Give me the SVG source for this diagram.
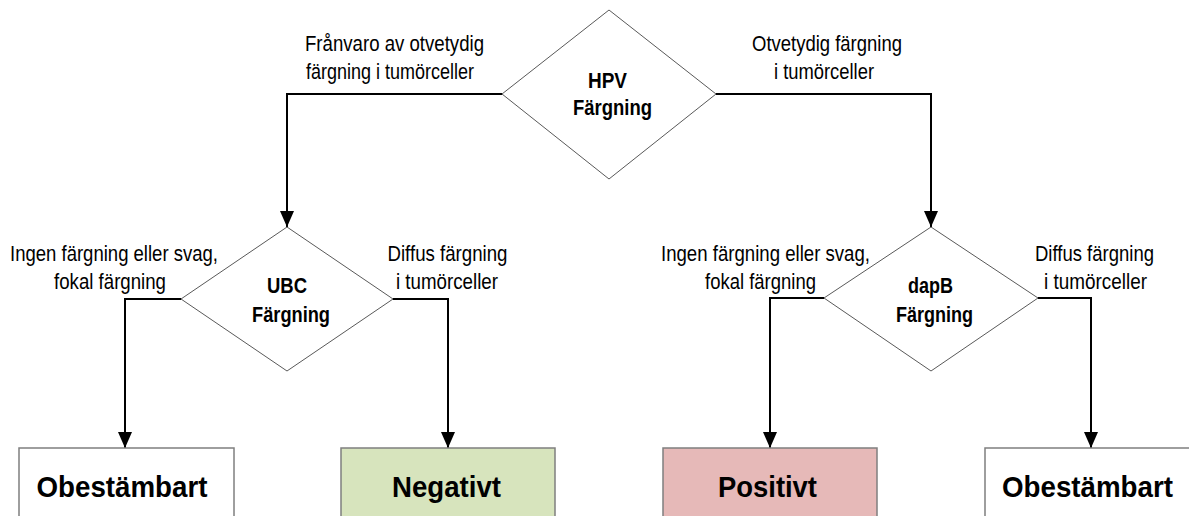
<svg xmlns="http://www.w3.org/2000/svg" width="1189" height="516" viewBox="0 0 1189 516">
<style>
  .lbl { font-family: "Liberation Sans Narrow", "Liberation Sans", Arial, sans-serif; font-size: 22px; fill: #000; text-anchor: middle; }
  .dlbl { font-family: "Liberation Sans Narrow", "Liberation Sans", Arial, sans-serif; font-size: 22px; font-weight: bold; fill: #000; text-anchor: middle; }
  .blbl { font-family: "Liberation Sans Narrow", "Liberation Sans", Arial, sans-serif; font-size: 30px; font-weight: bold; fill: #000; text-anchor: middle; }
  .dia { fill: #fff; stroke: #595959; stroke-width: 1; }
  .box { stroke: #7f7f7f; stroke-width: 1.5; }
  .con { fill: none; stroke: #000; stroke-width: 2; marker-end: url(#arr); }
</style>
<defs>
  <marker id="arr" markerUnits="userSpaceOnUse" markerWidth="16" markerHeight="14" refX="16" refY="7" orient="auto">
    <path d="M0,0 L16,7 L0,14 z" fill="#000"/>
  </marker>
</defs>
<rect x="0" y="0" width="1189" height="516" fill="#fff"/>

<g id="connectors">
  <polyline class="con" points="502,94 287,94 287,227"/>
  <polyline class="con" points="716,94 931,94 931,227"/>
  <polyline class="con" points="181,299 125,299 125,448"/>
  <polyline class="con" points="393,299 448,299 448,448"/>
  <polyline class="con" points="824,298 770,298 770,448"/>
  <polyline class="con" points="1038,298 1091,298 1091,448"/>
</g>

<g id="edge-labels">
  <text class="lbl" x="394.5" y="51" textLength="179" lengthAdjust="spacingAndGlyphs">Frånvaro av otvetydig</text>
  <text class="lbl" x="390" y="79" textLength="168" lengthAdjust="spacingAndGlyphs">färgning i tumörceller</text>
  <text class="lbl" x="827" y="51" textLength="150" lengthAdjust="spacingAndGlyphs">Otvetydig färgning</text>
  <text class="lbl" x="824" y="79" textLength="100" lengthAdjust="spacingAndGlyphs">i tumörceller</text>
  <text class="lbl" x="114" y="261" textLength="208" lengthAdjust="spacingAndGlyphs">Ingen färgning eller svag,</text>
  <text class="lbl" x="110" y="289" textLength="112" lengthAdjust="spacingAndGlyphs">fokal färgning</text>
  <text class="lbl" x="447.5" y="261" textLength="120" lengthAdjust="spacingAndGlyphs">Diffus färgning</text>
  <text class="lbl" x="447" y="289" textLength="102" lengthAdjust="spacingAndGlyphs">i tumörceller</text>
  <text class="lbl" x="765.5" y="261" textLength="209" lengthAdjust="spacingAndGlyphs">Ingen färgning eller svag,</text>
  <text class="lbl" x="760.5" y="289" textLength="111" lengthAdjust="spacingAndGlyphs">fokal färgning</text>
  <text class="lbl" x="1094.5" y="261" textLength="119" lengthAdjust="spacingAndGlyphs">Diffus färgning</text>
  <text class="lbl" x="1095.5" y="289" textLength="103" lengthAdjust="spacingAndGlyphs">i tumörceller</text>
</g>

<g id="hpv">
  <polygon class="dia" points="609,10 716,94 609,179 502,94"/>
  <text class="dlbl" x="607.5" y="88" textLength="39" lengthAdjust="spacingAndGlyphs">HPV</text>
  <text class="dlbl" x="612.5" y="115" textLength="79" lengthAdjust="spacingAndGlyphs">Färgning</text>
</g>

<g id="ubc">
  <polygon class="dia" points="287,227 393,299 287,371 181,299"/>
  <text class="dlbl" x="287" y="293" textLength="40" lengthAdjust="spacingAndGlyphs">UBC</text>
  <text class="dlbl" x="291" y="322" textLength="78" lengthAdjust="spacingAndGlyphs">Färgning</text>
</g>

<g id="dapb">
  <polygon class="dia" points="931,227 1038,298 931,371 824,298"/>
  <text class="dlbl" x="930.5" y="293" textLength="45" lengthAdjust="spacingAndGlyphs">dapB</text>
  <text class="dlbl" x="934.5" y="322" textLength="77" lengthAdjust="spacingAndGlyphs">Färgning</text>
</g>

<g id="obestambart-left">
  <rect class="box" x="19" y="448" width="215" height="100" fill="#fff"/>
  <text class="blbl" x="122" y="497" textLength="171" lengthAdjust="spacingAndGlyphs">Obestämbart</text>
</g>

<g id="negativt">
  <rect class="box" x="341" y="448" width="214" height="100" fill="#d7e4bd"/>
  <text class="blbl" x="446.5" y="497" textLength="109" lengthAdjust="spacingAndGlyphs">Negativt</text>
</g>

<g id="positivt">
  <rect class="box" x="663" y="448" width="214" height="100" fill="#e6b9b8"/>
  <text class="blbl" x="767.5" y="497" textLength="99" lengthAdjust="spacingAndGlyphs">Positivt</text>
</g>

<g id="obestambart-right">
  <rect class="box" x="985" y="448" width="214" height="100" fill="#fff"/>
  <text class="blbl" x="1087.5" y="497" textLength="171" lengthAdjust="spacingAndGlyphs">Obestämbart</text>
</g>
</svg>
